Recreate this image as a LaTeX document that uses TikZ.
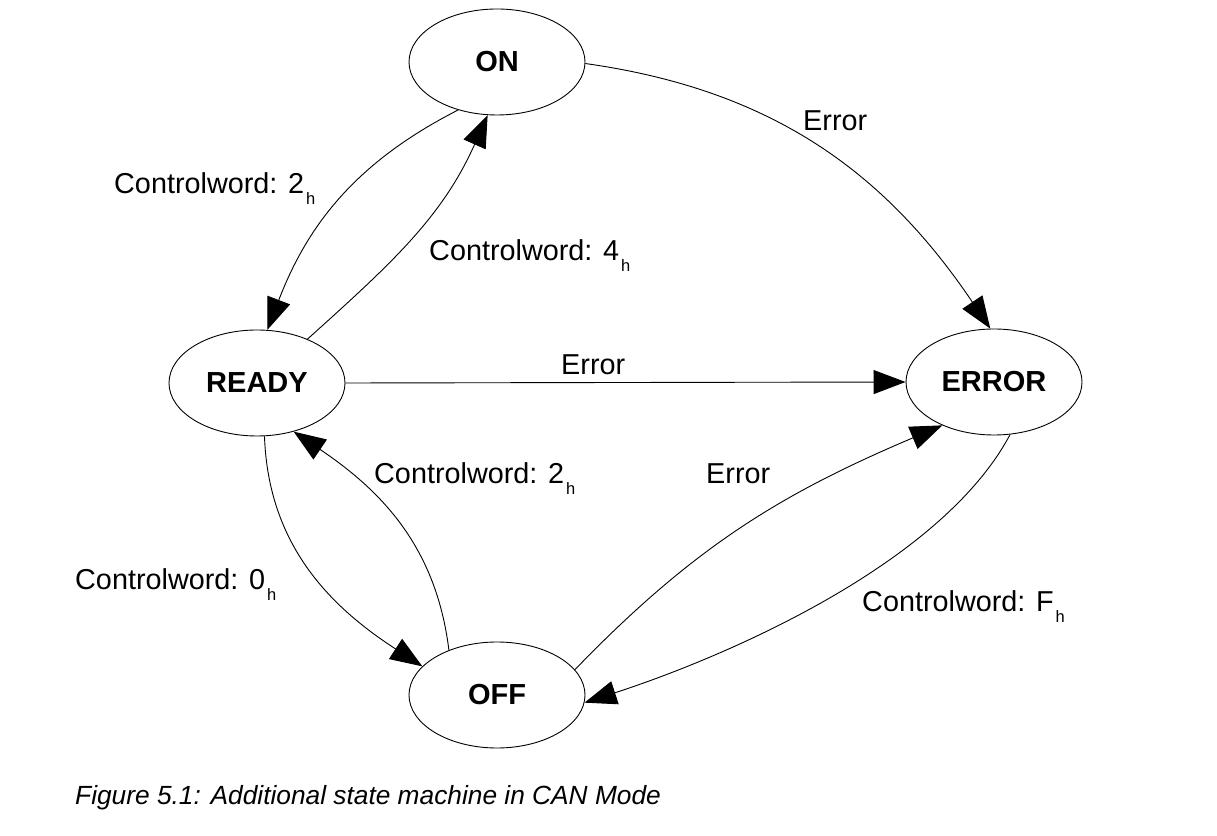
\documentclass[tikz,border=0pt]{standalone}
\usepackage{fontspec}
\setmainfont{Liberation Sans}
\usetikzlibrary{arrows.meta,shapes.geometric}
\newcommand{\subh}{\kern2pt\raisebox{-11pt}{\fontsize{16.5}{16.5}\selectfont h}}
\begin{document}
\begin{tikzpicture}[x=1pt,y=1pt,
  state/.style={draw, ellipse, line width=0.9pt, minimum width=176pt, minimum height=106pt, inner sep=0pt, font=\fontsize{29}{30}\selectfont\bfseries},
  lbl/.style={anchor=base west, inner sep=0pt, font=\fontsize{28.8}{30}\selectfont},
  trans/.style={line width=0.9pt, -{Triangle[length=32pt,width=24pt]}}]
\useasboundingbox (0,0) rectangle (1217,835);
\node[state] (on) at (497,773) {ON};
\node[state] (ready) at (257,452) {READY};
\node[state] (error) at (994,453) {ERROR};
\node[state] (off) at (497,140) {OFF};

\draw[trans] (on.231) to[out=207,in=69] (ready.79);
\draw[trans] (ready.41) to[out=42,in=246] (on.260);
\draw[trans] (on.359) to[out=352,in=124] (error.94);
\draw[trans] (ready.0) -- (error.180);
\draw[trans] (ready.278) to[out=272,in=147] (off.159);
\draw[trans] (off.137) to[out=97,in=326] (ready.307);
\draw[trans] (off.18) to[out=46,in=203] (error.220);
\draw[trans] (error.287) to[out=242,in=18,looseness=0.75] (off.355);

\node[lbl] (l1) at (114,641) {Controlword: 2\subh};
\node[lbl] (l2) at (429,574) {Controlword: 4\subh};
\node[lbl] (l3) at (803,704) {Error};
\node[lbl] (l4) at (561,460) {Error};
\node[lbl] (l5) at (374,351) {Controlword: 2\subh};
\node[lbl] (l6) at (706,351) {Error};
\node[lbl] (l7) at (75,245) {Controlword: 0\subh};
\node[lbl] (l8) at (862,223) {Controlword: F\subh};
\node[anchor=base west, inner sep=0pt, font=\fontsize{26.3}{28}\selectfont\itshape] (cap) at (75,31) {Figure 5.1: Additional state machine in CAN Mode};
\end{tikzpicture}
\end{document}
